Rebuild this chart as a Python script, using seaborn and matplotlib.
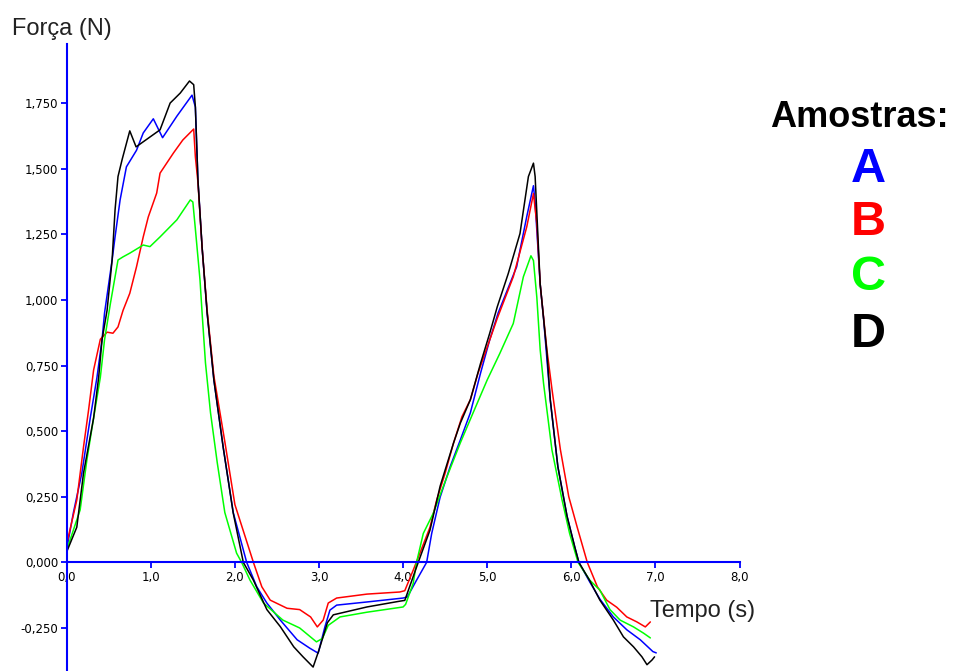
import matplotlib
matplotlib.use("Agg")
import matplotlib.pyplot as plt
import pandas as pd
import seaborn as sns
from matplotlib.ticker import FuncFormatter, FixedLocator

# Samples and their line colours
samples = ["A", "B", "C", "D"]
colors = ["#0000ff", "#ff0000", "#00ff00", "#000000"]

# Sample A (blue): time (s) and force (N)
t_a = [0.00, 0.08, 0.18, 0.28, 0.36, 0.42, 0.45, 0.54, 0.575, 0.635, 0.71, 0.83,
       0.91, 1.03, 1.14, 1.31, 1.49, 1.53, 1.56, 1.61, 1.67, 1.75, 1.86, 1.98,
       2.14, 2.26, 2.38, 2.54, 2.74, 2.89, 2.99, 3.07, 3.13, 3.21, 3.57, 4.00,
       4.05, 4.16, 4.28, 4.34, 4.44, 4.56, 4.68, 4.80, 4.92, 5.03, 5.13, 5.35,
       5.47, 5.55, 5.57, 5.63, 5.67, 5.75, 5.84, 5.95, 6.04, 6.09, 6.22, 6.34,
       6.50, 6.66, 6.82, 6.97, 7.01]
f_a = [0.05, 0.19, 0.34, 0.55, 0.705, 0.848, 0.95, 1.152, 1.24, 1.381, 1.507, 1.57,
       1.636, 1.69, 1.618, 1.70, 1.78, 1.735, 1.46, 1.20, 0.95, 0.695, 0.44, 0.19,
       0.0, -0.093, -0.155, -0.22, -0.295, -0.327, -0.346, -0.246, -0.182, -0.163, -0.151, -0.136,
       -0.132, -0.068, 0.0, 0.11, 0.248, 0.365, 0.466, 0.57, 0.72, 0.848, 0.95, 1.126,
       1.317, 1.435, 1.368, 1.06, 0.93, 0.618, 0.365, 0.175, 0.06, 0.0, -0.075, -0.14,
       -0.208, -0.257, -0.295, -0.34, -0.345]

# Sample B (red)
t_b = [0.00, 0.12, 0.20, 0.26, 0.32, 0.40, 0.48, 0.55, 0.61, 0.67, 0.75, 0.83,
       0.91, 0.97, 1.07, 1.11, 1.27, 1.38, 1.51, 1.53, 1.56, 1.61, 1.67, 1.75,
       1.88, 2.00, 2.22, 2.32, 2.42, 2.62, 2.77, 2.90, 2.98, 3.05, 3.11, 3.21,
       3.57, 3.96, 4.02, 4.12, 4.20, 4.32, 4.40, 4.50, 4.60, 4.70, 4.80, 4.89,
       5.00, 5.12, 5.31, 5.47, 5.55, 5.59, 5.63, 5.67, 5.71, 5.77, 5.87, 5.97,
       6.07, 6.19, 6.31, 6.42, 6.54, 6.66, 6.78, 6.88, 6.94]
f_b = [0.07, 0.237, 0.44, 0.58, 0.733, 0.85, 0.877, 0.873, 0.897, 0.96, 1.025, 1.126,
       1.24, 1.316, 1.407, 1.483, 1.56, 1.609, 1.651, 1.545, 1.45, 1.20, 0.96, 0.71,
       0.46, 0.22, 0.0, -0.093, -0.144, -0.175, -0.18, -0.208, -0.246, -0.22, -0.155, -0.136,
       -0.121, -0.113, -0.108, -0.03, 0.035, 0.134, 0.238, 0.34, 0.455, 0.555, 0.62, 0.72,
       0.82, 0.93, 1.088, 1.278, 1.405, 1.29, 1.06, 0.935, 0.81, 0.66, 0.43, 0.25,
       0.134, 0.0, -0.093, -0.144, -0.171, -0.208, -0.227, -0.246, -0.227]

# Sample C (green)
t_c = [0.00, 0.16, 0.24, 0.32, 0.40, 0.45, 0.52, 0.61, 0.67, 0.75, 0.91, 0.99,
       1.11, 1.31, 1.47, 1.50, 1.53, 1.585, 1.61, 1.65, 1.71, 1.79, 1.88, 2.02,
       2.08, 2.18, 2.34, 2.57, 2.77, 2.97, 3.04, 3.11, 3.25, 3.57, 4.00, 4.03,
       4.12, 4.16, 4.24, 4.36, 4.52, 4.68, 4.83, 5.00, 5.15, 5.31, 5.43, 5.52,
       5.55, 5.59, 5.63, 5.67, 5.72, 5.77, 5.89, 5.98, 6.08, 6.22, 6.34, 6.46,
       6.58, 6.74, 6.86, 6.94]
f_c = [0.047, 0.20, 0.39, 0.55, 0.705, 0.848, 0.987, 1.152, 1.164, 1.178, 1.209, 1.203,
       1.24, 1.305, 1.381, 1.373, 1.27, 1.076, 0.95, 0.76, 0.57, 0.38, 0.19, 0.035,
       0.0, -0.068, -0.155, -0.22, -0.25, -0.303, -0.29, -0.24, -0.208, -0.19, -0.17, -0.16,
       -0.08, 0.0, 0.11, 0.188, 0.325, 0.455, 0.568, 0.695, 0.796, 0.91, 1.088, 1.168,
       1.15, 1.01, 0.81, 0.682, 0.555, 0.428, 0.238, 0.11, 0.0, -0.068, -0.106, -0.18,
       -0.22, -0.246, -0.27, -0.288]

# Sample D (black)
t_d = [0.00, 0.12, 0.20, 0.32, 0.38, 0.42, 0.48, 0.54, 0.575, 0.61, 0.66, 0.75,
       0.825, 1.11, 1.23, 1.35, 1.46, 1.51, 1.53, 1.56, 1.61, 1.67, 1.75, 1.86,
       1.98, 2.10, 2.22, 2.38, 2.54, 2.70, 2.81, 2.93, 3.00, 3.10, 3.17, 3.57,
       3.96, 4.02, 4.18, 4.32, 4.44, 4.60, 4.68, 4.80, 4.92, 5.03, 5.12, 5.25,
       5.39, 5.49, 5.55, 5.57, 5.63, 5.67, 5.71, 5.75, 5.84, 5.95, 6.04, 6.09,
       6.22, 6.34, 6.50, 6.62, 6.74, 6.84, 6.90, 6.96, 6.99]
f_d = [0.04, 0.134, 0.34, 0.55, 0.705, 0.848, 0.96, 1.152, 1.343, 1.47, 1.536, 1.644,
       1.583, 1.648, 1.75, 1.788, 1.834, 1.82, 1.735, 1.46, 1.20, 0.95, 0.695, 0.44,
       0.188, 0.0, -0.068, -0.18, -0.245, -0.322, -0.36, -0.399, -0.334, -0.23, -0.20, -0.17,
       -0.148, -0.145, 0.0, 0.123, 0.29, 0.455, 0.53, 0.62, 0.757, 0.873, 0.974, 1.10,
       1.253, 1.47, 1.521, 1.47, 1.06, 0.93, 0.80, 0.62, 0.365, 0.175, 0.06, 0.0,
       -0.07, -0.144, -0.22, -0.284, -0.322, -0.36, -0.39, -0.372, -0.36]

x_ticks = [0, 1, 2, 3, 4, 5, 6, 7, 8]
y_ticks = [-0.25, 0.0, 0.25, 0.5, 0.75, 1.0, 1.25, 1.5, 1.75]

frames = []
for name, t, f in zip(samples, [t_a, t_b, t_c, t_d], [f_a, f_b, f_c, f_d]):
    frames.append(pd.DataFrame({"Tempo": t, "Forca": f, "Amostra": name}))
df = pd.concat(frames, ignore_index=True)

sns.set_theme(style="white")
plt.rcParams["font.family"] = ["DejaVu Sans"]

W, H = 955, 671
fig = plt.figure(figsize=(W / 100, H / 100), dpi=100)
fig.patch.set_facecolor("white")
ax = fig.add_axes([66.7 / W, 0.0, 672.8 / W, 1 - 44 / H])
ax.set_facecolor("white")

sns.lineplot(data=df, x="Tempo", y="Forca", hue="Amostra", hue_order=samples,
             palette=dict(zip(samples, colors)), estimator=None, sort=False,
             legend=False, linewidth=1.1, ax=ax)

ax.set_xlim(0, 8)
ax.set_ylim(-0.414, 1.975)
ax.set_xlabel("")
ax.set_ylabel("")
ax.grid(False)

for side in ("top", "right"):
    ax.spines[side].set_visible(False)
ax.spines["bottom"].set_position(("data", 0))
for side in ("left", "bottom"):
    ax.spines[side].set_color("#0000ff")
    ax.spines[side].set_linewidth(1.5)

ax.xaxis.set_major_locator(FixedLocator(x_ticks))
ax.yaxis.set_major_locator(FixedLocator(y_ticks))
ax.xaxis.set_major_formatter(FuncFormatter(lambda v, p: f"{v:.1f}".replace(".", ",")))
ax.yaxis.set_major_formatter(FuncFormatter(lambda v, p: f"{v:.3f}".replace(".", ",")))
ax.tick_params(axis="both", which="major", direction="out", length=4, width=1.3,
               color="#0000ff", labelcolor="black", labelsize=8.5, pad=2,
               bottom=True, left=True)

txt_font = ["Liberation Sans", "DejaVu Sans"]
fig.text(12 / W, 1 - 35 / H, "Força (N)", family=txt_font, fontsize=17,
         color="#222222", ha="left", va="baseline")
fig.text(650 / W, 1 - 617 / H, "Tempo (s)", family=txt_font, fontsize=17,
         color="#222222", ha="left", va="baseline")

fig.text(859 / W, 1 - 127 / H, "Amostras:", family=txt_font, fontsize=26,
         fontweight="bold", color="black", ha="center", va="baseline")
for name, col, base in zip(samples, colors, [182, 235, 290, 347]):
    fig.text(868 / W, 1 - base / H, name, family=txt_font, fontsize=35,
             fontweight="bold", color=col, ha="center", va="baseline")

fig.savefig("out.png", dpi=100, facecolor="white")
